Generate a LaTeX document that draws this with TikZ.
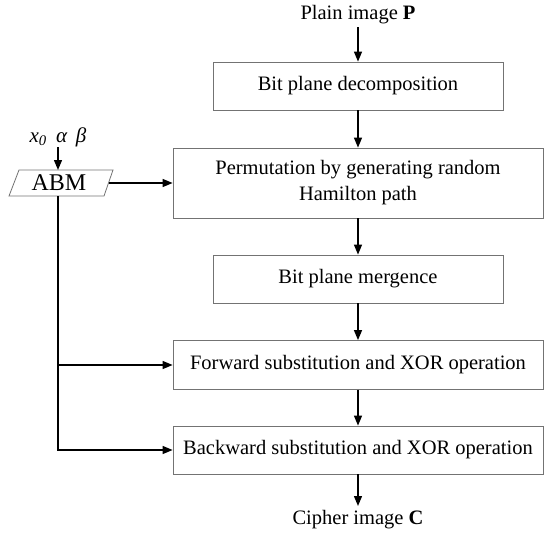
\documentclass[tikz,border=0pt]{standalone}
\usepackage{fontspec}
\setmainfont{Liberation Serif}
\usetikzlibrary{arrows.meta}
\begin{document}
\begin{tikzpicture}[x=1pt,y=-1pt,
  box/.style={draw=black!55,line width=0.8pt,rectangle,inner sep=0pt,align=center,font=\fontsize{20.5}{26}\selectfont},
  lbl/.style={inner sep=0pt,font=\fontsize{20.5}{23}\selectfont},
  conn/.style={line width=1.3pt,-{Triangle[length=10pt,width=8pt]}},
  plain/.style={line width=1.3pt}]
\useasboundingbox (0,0) rectangle (550,538);
\node[lbl] (P) at (358,15) {Plain image \textbf{P}};
\node[box,minimum width=290,minimum height=48] (b1) at (358,86) {Bit plane decomposition};
\node[box,minimum width=370,minimum height=70] (b2) at (358,183) {Permutation by generating random\\Hamilton path};
\node[box,minimum width=290,minimum height=48] (b3) at (358,279) {Bit plane mergence};
\node[box,minimum width=370,minimum height=49] (b4) at (358,365) {Forward substitution and XOR operation};
\node[box,minimum width=370,minimum height=48] (b5) at (358,450) {Backward substitution and XOR operation};
\node[lbl] (C) at (358,520) {Cipher image \textbf{C}};
\node[lbl,minimum width=95,minimum height=26,font=\fontsize{24}{26}\selectfont] (abm) at (59,183) {ABM};
\draw[draw=black!55,line width=0.8pt] (9,196) -- (104,196) -- (113,170) -- (19,170) -- cycle;
\node[lbl,font=\fontsize{21}{23}\selectfont] (par) at (58,137) {\textit{x}\textsubscript{\textit{0}}\hspace{0.45em}\textit{α}\hspace{0.4em}\textit{β}};
\coordinate (abmr) at (108.5,183);
\coordinate (abmb) at (58,196);
\coordinate (abmt) at (58,170);
\coordinate (j1) at (58,365);
\coordinate (j2) at (58,450);
\draw[conn] (P.south |- 0,27) -- (b1.north);
\draw[conn] (b1) -- (b2);
\draw[conn] (b2) -- (b3);
\draw[conn] (b3) -- (b4);
\draw[conn] (b4) -- (b5);
\draw[conn] (b5.south) -- (358,506);
\draw[conn] (58,147) -- (abmt);
\draw[conn] (abmr) -- (b2.west);
\draw[plain] (abmb) -- (j2);
\draw[conn] (j1) -- (b4.west);
\draw[conn] ([xshift=-0.65pt]j2) -- (b5.west);
\end{tikzpicture}
\end{document}
